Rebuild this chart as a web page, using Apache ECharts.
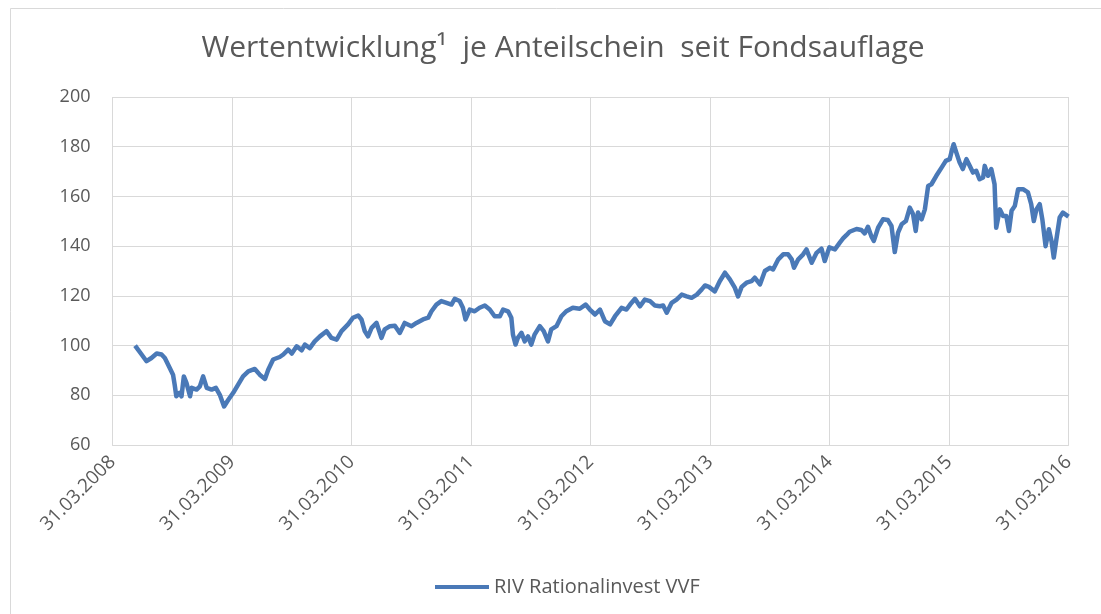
<!DOCTYPE html>
<html>
<head>
<meta charset="utf-8">
<script src="https://cdn.jsdelivr.net/npm/echarts@6/dist/echarts.min.js"></script>
<style>
  html, body { margin: 0; padding: 0; background: #fff; }
  #myCharts { width: 1101px; height: 614px; }
</style>
</head>
<body>
<div id="myCharts"></div>
<script>
// Wertentwicklung je Anteilschein
var titleText = 'Wertentwicklung¹  je Anteilschein  seit Fondsauflage'
var seriesName = 'RIV Rationalinvest VVF'
var startDate = '2008-03-31'
var xTickLabels = ['31.03.2008', '31.03.2009', '31.03.2010', '31.03.2011', '31.03.2012',
  '31.03.2013', '31.03.2014', '31.03.2015', '31.03.2016']
var yTicks = [60, 80, 100, 120, 140, 160, 180, 200]

var navDates = [
  '2008-06-08', '2008-06-28', '2008-07-13', '2008-07-28', '2008-08-13', '2008-08-28', '2008-09-07', '2008-09-22',
  '2008-10-02', '2008-10-07', '2008-10-12', '2008-10-22', '2008-10-28', '2008-11-04', '2008-11-12', '2008-11-23',
  '2008-11-28', '2008-12-13', '2008-12-23', '2009-01-02', '2009-01-13', '2009-01-28', '2009-02-10', '2009-02-22',
  '2009-03-07', '2009-03-20', '2009-04-04', '2009-04-19', '2009-05-04', '2009-05-20', '2009-06-09', '2009-06-24',
  '2009-07-10', '2009-07-20', '2009-08-04', '2009-08-24', '2009-09-04', '2009-09-19', '2009-09-30', '2009-10-15',
  '2009-10-30', '2009-11-09', '2009-11-24', '2009-12-09', '2009-12-25', '2010-01-14', '2010-01-29', '2010-02-14',
  '2010-03-01', '2010-03-21', '2010-04-05', '2010-04-21', '2010-05-01', '2010-05-11', '2010-05-21', '2010-06-01',
  '2010-06-16', '2010-07-01', '2010-07-11', '2010-07-27', '2010-08-11', '2010-08-26', '2010-09-10', '2010-10-01',
  '2010-10-16', '2010-11-05', '2010-11-21', '2010-12-01', '2010-12-16', '2010-12-31', '2011-01-16', '2011-01-31',
  '2011-02-10', '2011-02-25', '2011-03-07', '2011-03-15', '2011-03-28', '2011-04-12', '2011-04-27', '2011-05-13',
  '2011-05-28', '2011-06-12', '2011-06-28', '2011-07-08', '2011-07-23', '2011-08-02', '2011-08-07', '2011-08-15',
  '2011-08-22', '2011-09-02', '2011-09-12', '2011-09-22', '2011-10-02', '2011-10-12', '2011-10-28', '2011-11-09',
  '2011-11-22', '2011-12-02', '2011-12-18', '2012-01-02', '2012-01-17', '2012-02-06', '2012-02-27', '2012-03-16',
  '2012-03-29', '2012-04-14', '2012-04-29', '2012-05-14', '2012-05-30', '2012-06-14', '2012-07-04', '2012-07-19',
  '2012-07-30', '2012-08-14', '2012-08-29', '2012-09-13', '2012-09-29', '2012-10-14', '2012-10-29', '2012-11-08',
  '2012-11-19', '2012-12-04', '2012-12-19', '2013-01-04', '2013-01-19', '2013-02-03', '2013-02-19', '2013-03-06',
  '2013-03-16', '2013-03-28', '2013-04-15', '2013-04-30', '2013-05-16', '2013-05-31', '2013-06-15', '2013-06-25',
  '2013-07-06', '2013-07-21', '2013-08-05', '2013-08-15', '2013-08-31', '2013-09-15', '2013-09-30', '2013-10-10',
  '2013-10-26', '2013-11-10', '2013-11-25', '2013-12-06', '2013-12-13', '2013-12-26', '2014-01-10', '2014-01-20',
  '2014-02-05', '2014-02-20', '2014-03-07', '2014-03-17', '2014-03-31', '2014-04-17', '2014-05-02', '2014-05-12',
  '2014-05-22', '2014-06-01', '2014-06-22', '2014-07-07', '2014-07-17', '2014-07-27', '2014-08-07', '2014-08-14',
  '2014-08-27', '2014-09-11', '2014-09-26', '2014-10-07', '2014-10-17', '2014-10-27', '2014-11-07', '2014-11-20',
  '2014-12-02', '2014-12-12', '2014-12-20', '2014-12-27', '2015-01-07', '2015-01-17', '2015-01-27', '2015-02-06',
  '2015-02-21', '2015-03-09', '2015-03-22', '2015-04-03', '2015-04-08', '2015-04-15', '2015-04-23', '2015-05-03',
  '2015-05-13', '2015-05-24', '2015-06-03', '2015-06-13', '2015-06-23', '2015-07-03', '2015-07-14', '2015-07-19',
  '2015-07-29', '2015-08-08', '2015-08-18', '2015-08-23', '2015-09-03', '2015-09-13', '2015-09-23', '2015-10-01',
  '2015-10-09', '2015-10-19', '2015-10-29', '2015-11-13', '2015-11-28', '2015-12-08', '2015-12-16', '2015-12-24',
  '2016-01-03', '2016-01-11', '2016-01-21', '2016-01-31', '2016-02-08', '2016-02-15', '2016-02-23', '2016-03-04',
  '2016-03-14', '2016-03-31'
]
var navValues = [
  100, 96.4, 93.7, 95, 96.8, 96.4, 95, 91,
  88.3, 84.3, 79.6, 81, 79.6, 87.6, 85, 79.6,
  83, 82.3, 83.6, 87.6, 83, 82.3, 83, 80.2,
  75.5, 78.2, 81, 84.3, 87.6, 89.6, 90.6, 88.3,
  86.6, 90.3, 94.4, 95.4, 96.4, 98.4, 96.8, 99.7,
  98.1, 100.4, 99, 101.7, 103.7, 105.8, 103.1, 102.4,
  105.8, 108.5, 111.2, 112.1, 110.5, 105.8, 103.7, 107.1,
  109.1, 103.1, 106.5, 107.8, 108, 105.1, 109.1, 107.8,
  109.1, 110.5, 111.2, 113.8, 116.5, 117.9, 117.2, 116.5,
  118.8, 117.9, 115.2, 110.5, 114.5, 113.8, 115.2, 116.1,
  114.5, 111.8, 111.8, 114.5, 113.8, 111.2, 104.4, 100.4,
  103.1, 105.1, 101.7, 103.7, 100.4, 104.4, 107.8, 105.8,
  101.7, 106.5, 107.8, 111.8, 113.8, 115.2, 114.8, 116.5,
  114.5, 112.5, 114.5, 109.8, 108.5, 111.8, 115.2, 114.5,
  116.5, 118.8, 115.8, 118.5, 117.9, 116.1, 115.8, 116.1,
  113.2, 117.2, 118.5, 120.5, 119.8, 119.2, 120.5, 122.6,
  124.2, 123.6, 121.8, 125.9, 129.3, 126.6, 123.3, 119.8,
  123.6, 125.3, 125.9, 127.3, 124.6, 130, 131.3, 130.6,
  134.7, 136.7, 136.7, 134.7, 131.3, 134.7, 136.7, 138.7,
  133.3, 137.3, 139, 134, 139.5, 138.7, 141.4, 143.1,
  144.4, 145.8, 146.9, 146.5, 145.1, 147.8, 143.8, 142.1,
  147.4, 150.8, 150.5, 148.1, 137.6, 145.4, 148.8, 150.1,
  155.5, 152.8, 146.1, 153.5, 150.8, 154.8, 164.2, 164.9,
  168.3, 171.6, 174.3, 175, 177.7, 181, 177.7, 173.7,
  171, 175, 172.3, 169.6, 170.3, 166.9, 167.6, 172.3,
  168.3, 171, 164.9, 147.4, 154.8, 152.1, 152.1, 146.1,
  154.2, 156.2, 162.9, 162.9, 161.6, 156.9, 150.1, 154.8,
  156.9, 150.8, 140, 146.8, 142.1, 135.4, 142.7, 151.5,
  153.5, 151.9
]

var fontName = '"Open Sans", sans-serif'
var textColor = '#595959'
var gridColor = '#d9d9d9'
var lineColor = '#4a79b7'
var dayMs = 86400000
var yearDays = 365.25

// Tage seit 31.03.2008 -> x-Wert
function dayOffset (s) {
  return Math.round((Date.parse(s) - Date.parse(startDate)) / dayMs)
}

var seriesData = navDates.map(function (d, i) {
  return [dayOffset(d), navValues[i]]
})

var myCharts = echarts.init(document.getElementById('myCharts'))

var option = {
  animation: false,
  backgroundColor: '#fff',
  textStyle: { fontFamily: fontName },
  graphic: [
    {
      type: 'rect',
      shape: { x: 10.5, y: 8.5, width: 1200, height: 700 },
      style: { fill: 'none', stroke: gridColor, lineWidth: 1 },
      silent: true
    }
  ],
  title: {
    text: titleText,
    left: 563,
    top: 33,
    padding: 0,
    textAlign: 'center',
    textStyle: {
      fontFamily: fontName,
      fontSize: 30,
      fontWeight: 'normal',
      color: textColor
    }
  },
  legend: {
    data: [seriesName],
    left: 430,
    top: 572,
    icon: 'rect',
    itemWidth: 54,
    itemHeight: 4,
    textStyle: {
      fontFamily: fontName,
      fontSize: 20,
      color: textColor
    }
  },
  grid: {
    left: 112.5,
    right: 32.5,
    top: 97,
    bottom: 169
  },
  xAxis: {
    type: 'value',
    min: 0,
    max: yearDays * (xTickLabels.length - 1),
    interval: yearDays,
    axisLine: { show: true, lineStyle: { color: gridColor, width: 1 } },
    axisTick: { show: false },
    splitLine: { show: true, lineStyle: { color: gridColor, width: 1 } },
    axisLabel: {
      rotate: 45,
      margin: 14,
      fontFamily: fontName,
      fontSize: 19,
      color: textColor,
      formatter: function (v) {
        return xTickLabels[Math.round(v / yearDays)]
      }
    }
  },
  yAxis: {
    type: 'value',
    min: yTicks[0],
    max: yTicks[yTicks.length - 1],
    interval: yTicks[1] - yTicks[0],
    axisLine: { show: false },
    axisTick: { show: false },
    splitLine: { show: true, lineStyle: { color: gridColor, width: 1 } },
    axisLabel: {
      margin: 22,
      fontFamily: fontName,
      fontSize: 18,
      color: textColor
    }
  },
  series: [
    {
      name: seriesName,
      type: 'line',
      data: seriesData,
      showSymbol: false,
      symbol: 'none',
      lineStyle: { color: lineColor, width: 4.5, join: 'round' },
      itemStyle: { color: lineColor }
    }
  ]
}

myCharts.setOption(option)
</script>
</body>
</html>
